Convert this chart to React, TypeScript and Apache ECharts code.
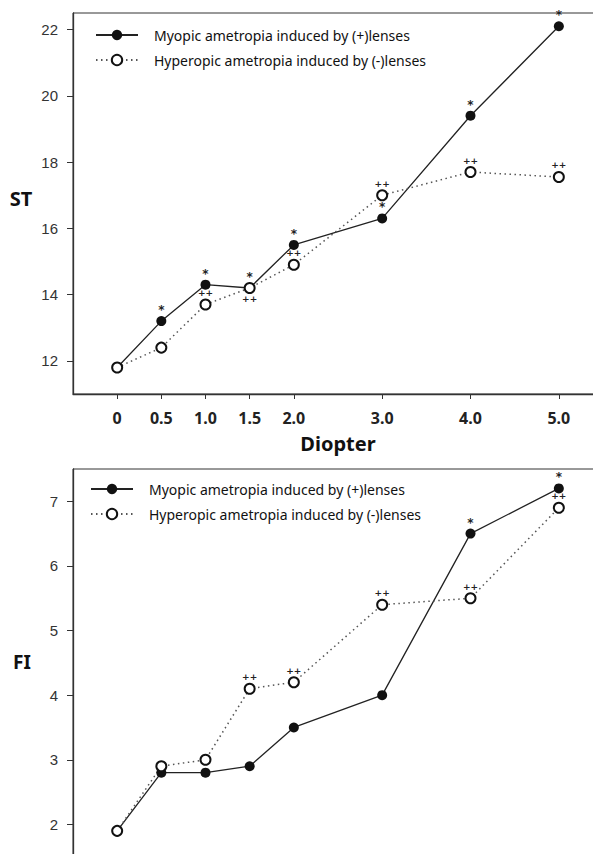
import React, { useEffect, useRef } from "react";
import * as echarts from "echarts";

const xValues = [0, 0.5, 1, 1.5, 2, 3, 4, 5];
const xTickValues = [0, 0.5, 1, 1.5, 2, 3, 4, 5];
const xTickLabels = ["0", "0.5", "1.0", "1.5", "2.0", "3.0", "4.0", "5.0"];

const stTicks = [12, 14, 16, 18, 20, 22];
const fiTicks = [2, 3, 4, 5, 6, 7];

const stMyopic = [11.8, 13.2, 14.3, 14.2, 15.5, 16.3, 19.4, 22.1];
const stHyperopic = [11.8, 12.4, 13.7, 14.2, 14.9, 17.0, 17.7, 17.55];
const fiMyopic = [1.9, 2.8, 2.8, 2.9, 3.5, 4.0, 6.5, 7.2];
const fiHyperopic = [1.9, 2.9, 3.0, 4.1, 4.2, 5.4, 5.5, 6.9];

const stMyopicMarks = ["", "*", "*", "*", "*", "*", "*", "*"];
const stHyperopicMarks = ["", "", "++", "++", "++", "++", "++", "++"];
const stHyperopicMarkPos = ["top", "top", "top", "bottom", "top", "top", "top", "top"];
const fiMyopicMarks = ["", "", "", "", "", "", "*", "*"];
const fiHyperopicMarks = ["", "", "", "++", "++", "++", "++", "++"];

const MYO = "Myopic ametropia induced by (+)lenses";
const HYP = "Hyperopic ametropia induced by (-)lenses";

function buildData(ys: number[], marks: string[], pos: string[] | null, star: boolean) {
  return xValues.map((x, i) => ({
    value: [x, ys[i]],
    label: {
      show: marks[i] !== "",
      formatter: marks[i] || " ",
      position: pos ? pos[i] : "top",
      distance: star ? 0 : 1,
      fontSize: star ? 12 : 9,
      fontWeight: "bold",
      color: "#222",
      fontFamily: "DejaVu Sans",
    },
  }));
}

export default function App() {
  const ref = useRef<HTMLDivElement>(null);
  useEffect(() => {
    if (!ref.current) return;
    const chart = echarts.init(ref.current, undefined, { renderer: "svg" });
    const xLabelFmt = (v: number) => {
      const idx = xTickValues.indexOf(v);
      return idx >= 0 ? xTickLabels[idx] : "";
    };
    const myoLine = { color: "#222", width: 1.3, type: "solid" };
    const hypLine = { color: "#555", width: 1.5, type: [1.5, 3.5] };
    const legendBase = {
      orient: "vertical",
      itemWidth: 42,
      itemHeight: 13,
      itemGap: 11,
      data: [MYO, HYP],
      textStyle: { fontSize: 14, fontFamily: "Noto Sans", color: "#111", padding: [0, 0, 0, 11] },
      selectedMode: false,
    };
    const yLabel = { fontSize: 15, fontFamily: "Liberation Sans", color: "#333", margin: 15 };
    chart.setOption({
      animation: false,
      backgroundColor: "#fff",
      grid: [
        { left: 73, top: 13, width: 530, height: 381, show: true, borderColor: "#333", borderWidth: 1 },
        { left: 73, top: 469, width: 530, height: 420, show: true, borderColor: "#333", borderWidth: 1 },
      ],
      legend: [
        { ...legendBase, left: 90, top: 23 },
        { ...legendBase, left: 85, top: 477 },
      ],
      xAxis: [
        {
          type: "value",
          gridIndex: 0,
          min: -0.5,
          max: 5.5,
          splitLine: { show: false },
          axisLine: { onZero: false, lineStyle: { color: "#333", width: 1.3 } },
          axisTick: { customValues: xTickValues, length: 5, lineStyle: { color: "#333" } },
          axisLabel: {
            customValues: xTickValues,
            formatter: xLabelFmt,
            fontSize: 16,
            fontWeight: "bold",
            fontFamily: "Noto Sans",
            color: "#222",
            margin: 16,
          },
          name: "Diopter",
          nameLocation: "middle",
          nameGap: 39,
          nameTextStyle: { fontSize: 20, fontWeight: "bold", fontFamily: "Noto Sans", color: "#111" },
        },
        {
          type: "value",
          gridIndex: 1,
          min: -0.5,
          max: 5.5,
          show: false,
          splitLine: { show: false },
        },
      ],
      yAxis: [
        {
          type: "value",
          gridIndex: 0,
          min: 11,
          max: 22.5,
          splitLine: { show: false },
          axisLine: { show: true, onZero: false, lineStyle: { color: "#333", width: 1.3 } },
          axisTick: { show: true, customValues: stTicks, length: 6, lineStyle: { color: "#333" } },
          axisLabel: { ...yLabel, customValues: stTicks },
        },
        {
          type: "value",
          gridIndex: 1,
          min: 1,
          max: 7.5,
          splitLine: { show: false },
          axisLine: { show: true, onZero: false, lineStyle: { color: "#333", width: 1.3 } },
          axisTick: { show: true, customValues: fiTicks, length: 6, lineStyle: { color: "#333" } },
          axisLabel: { ...yLabel, customValues: fiTicks },
        },
      ],
      graphic: [
        { type: "text", x: 21, y: 198, style: { text: "ST", fontSize: 20, fontWeight: "bold", fontFamily: "Noto Sans", fill: "#111", align: "center", verticalAlign: "middle" } },
        { type: "text", x: 22, y: 662, style: { text: "FI", fontSize: 19, fontWeight: "bold", fontFamily: "Noto Sans", fill: "#111", align: "center", verticalAlign: "middle" } },
      ],
      series: [
        {
          name: MYO, type: "line", xAxisIndex: 0, yAxisIndex: 0,
          symbol: "circle", symbolSize: 10, itemStyle: { color: "#111" }, lineStyle: myoLine,
          data: buildData(stMyopic, stMyopicMarks, null, true),
        },
        {
          name: HYP, type: "line", xAxisIndex: 0, yAxisIndex: 0,
          symbol: "emptyCircle", symbolSize: 10, itemStyle: { color: "#111", borderWidth: 1.5 }, lineStyle: hypLine,
          data: buildData(stHyperopic, stHyperopicMarks, stHyperopicMarkPos, false),
        },
        {
          name: MYO, type: "line", xAxisIndex: 1, yAxisIndex: 1,
          symbol: "circle", symbolSize: 10, itemStyle: { color: "#111" }, lineStyle: myoLine,
          data: buildData(fiMyopic, fiMyopicMarks, null, true),
        },
        {
          name: HYP, type: "line", xAxisIndex: 1, yAxisIndex: 1,
          symbol: "emptyCircle", symbolSize: 10, itemStyle: { color: "#111", borderWidth: 1.5 }, lineStyle: hypLine,
          data: buildData(fiHyperopic, fiHyperopicMarks, null, false),
        },
      ],
    });
    return () => chart.dispose();
  }, []);
  return (
    <div style={{ position: "absolute", left: 0, top: 0, width: 593, height: 854, overflow: "hidden", background: "#fff" }}>
      <div ref={ref} style={{ width: 620, height: 900 }} />
    </div>
  );
}
